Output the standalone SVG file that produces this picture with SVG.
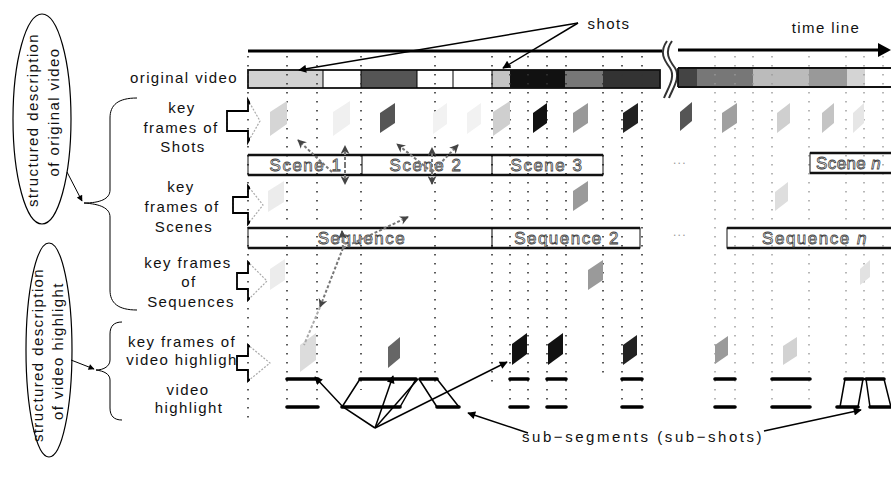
<svg xmlns="http://www.w3.org/2000/svg" width="891" height="477" viewBox="0 0 891 477">
<defs>
<style>
text{font-family:"Liberation Sans",Arial,sans-serif;font-size:15px;letter-spacing:1.4px;fill:#111}
.c{text-anchor:middle}
.dot{stroke:#333;stroke-width:1.6;stroke-dasharray:1.6 7.4;fill:none}
.dotl{stroke:#999;stroke-width:1.4;stroke-dasharray:1.4 7.6;fill:none}
.tl{stroke:#000;stroke-width:3;fill:none}
.bar{stroke:#111;stroke-width:2.6;fill:none}
.hl{stroke:#000;stroke-width:3.6;stroke-linecap:round}
.ln{stroke:#000;stroke-width:1.5;fill:none}
.thin{stroke:#000;stroke-width:1;fill:none}
.sc{font-size:17px;fill:#fff;stroke:#444;stroke-width:0.8;letter-spacing:1.5px}
.ga{stroke:#777;stroke-width:2;stroke-dasharray:3 2;fill:none}
.ba{fill:none;stroke:#aaa;stroke-width:1.2;stroke-dasharray:2 1.5}
.bb{fill:none;stroke:#000;stroke-width:1.8}
</style>
<marker id="ah" viewBox="0 0 10 10" refX="9" refY="5" markerWidth="11" markerHeight="8" markerUnits="userSpaceOnUse" orient="auto"><path d="M0,0 L10,5 L0,10 z" fill="#000"/></marker>
<marker id="as" viewBox="0 0 10 10" refX="9" refY="5" markerWidth="8" markerHeight="6" markerUnits="userSpaceOnUse" orient="auto"><path d="M0,0 L10,5 L0,10 z" fill="#000"/></marker>
<marker id="ag" viewBox="0 0 10 10" refX="9" refY="5" markerWidth="10" markerHeight="9" markerUnits="userSpaceOnUse" orient="auto"><path d="M0,0 L10,5 L0,10 L3,5 z" fill="#444"/></marker>
<clipPath id="lc"><rect x="0" y="0" width="250" height="477"/></clipPath>
<path id="ba1" d="M227,111 L248,111 L248,100 L260,121 L248,142 L248,131 L227,131 Z"/>
<path id="ba2" d="M233,197 L248,197 L248,186 L263,205 L248,224 L248,213 L233,213 Z"/>
<path id="ba3" d="M237,273 L248,273 L248,262 L267,281 L248,300 L248,289 L237,289 Z"/>
<path id="ba4" d="M237,356 L248,356 L248,345 L270,363 L248,381 L248,370 L237,370 Z"/>
</defs>
<rect width="891" height="477" fill="#fff"/>

<g id="timeline">
<line class="tl" x1="248" y1="51" x2="662" y2="51"/>
<line class="tl" x1="678" y1="50" x2="880" y2="50"/>
<path d="M878,43 L891,50 L878,57 z" fill="#000"/>
<path d="M667,41 C659,52 664,60 670,68 C676,77 668,88 664,98" fill="none" stroke="#333" stroke-width="2"/>
<path d="M672,41 C664,52 669,60 675,68 C681,77 673,88 669,98" fill="none" stroke="#333" stroke-width="2"/>
<text x="826" y="33" class="c">time line</text>
</g>

<g id="original-video">
<rect x="248" y="70" width="75" height="18" fill="#d2d2d2"/>
<rect x="361" y="70" width="56" height="18" fill="#555"/>
<rect x="492" y="70" width="18" height="18" fill="#c4c4c4"/>
<rect x="510" y="70" width="55" height="18" fill="#111"/>
<rect x="565" y="70" width="38" height="18" fill="#777"/>
<rect x="603" y="70" width="57" height="18" fill="#333"/>
<rect x="248" y="70" width="412" height="18" fill="none" stroke="#111" stroke-width="1.8"/>
<path class="thin" d="M323,70V88M361,70V88M417,70V88M453,70V88M492,70V88"/>
<rect x="678" y="68" width="19" height="19" fill="#444"/>
<rect x="697" y="68" width="56" height="19" fill="#777"/>
<rect x="753" y="68" width="56" height="19" fill="#bbb"/>
<rect x="809" y="68" width="38" height="19" fill="#999"/>
<rect x="847" y="68" width="18" height="19" fill="#d4d4d4"/>
<path d="M678,68H891M678,87H891M678,68V87" fill="none" stroke="#111" stroke-width="1.8"/>
<text x="238" y="83" style="text-anchor:end">original video</text>
</g>

<g id="grid">
<path class="dot" d="M248,56V420M287,56V407M317,56V407M361,56V390M435,56V388M492,56V388M510,56V407M528,56V407M547,56V407M566,56V407M603,56V378M622,56V407M642,56V407"/>
<path class="dotl" d="M715,56V407M735,56V407M753,56V370M772,56V407M809,56V407M846,56V378M864,56V378M883,56V378"/>
</g>

<g id="shots-label">
<text x="609" y="29" class="c">shots</text>
<line class="ln" x1="578" y1="23" x2="299" y2="70" marker-end="url(#ah)"/>
<line class="ln" x1="578" y1="23" x2="503" y2="68" marker-end="url(#ah)"/>
</g>

<g id="keyframes-shots">
<polygon points="270,112 287,101 287,124 270,136" fill="#d5d5d5"/>
<polygon points="333,112 350,101 350,124 333,136" fill="#f0f0f0"/>
<polygon points="380,113 395,103 395,123 380,133" fill="#555"/>
<polygon points="433,113 447,103 447,124 433,134" fill="#f2f2f2"/>
<polygon points="467,113 481,103 481,124 467,134" fill="#f2f2f2"/>
<polygon points="493,112 510,101 510,124 493,136" fill="#cfcfcf"/>
<polygon points="533,113 547,103 547,123 533,133" fill="#111"/>
<polygon points="573,113 588,103 588,123 573,133" fill="#999"/>
<polygon points="623,113 638,103 638,123 623,133" fill="#222"/>
<polygon points="680,112 692,102 692,121 680,131" fill="#555"/>
<polygon points="722,113 737,103 737,123 722,133" fill="#a0a0a0"/>
<polygon points="777,113 790,103 790,123 777,133" fill="#cfcfcf"/>
<polygon points="822,113 834,103 834,123 822,133" fill="#c4c4c4"/>
<polygon points="853,113 864,103 864,123 853,133" fill="#e6e6e6"/>
</g>

<g id="scene-bars">
<rect x="248" y="155" width="355" height="20" fill="none" stroke="#111" stroke-width="1"/>
<path class="bar" d="M248,155H603M248,175H603"/>
<path class="thin" d="M362,155V175M492,155V175"/>
<text x="306" y="171" class="sc c">Scene 1</text>
<text x="426" y="171" class="sc c">Scene 2</text>
<text x="547" y="171" class="sc c">Scene 3</text>
<rect x="810" y="153" width="90" height="20" fill="none" stroke="#111" stroke-width="1"/>
<path class="bar" d="M810,153H891M810,173H891"/>
<text x="816" y="169" class="sc" style="letter-spacing:0.4px">Scene <tspan font-style="italic">n</tspan></text>
<text x="680" y="164" class="c" style="fill:#999;font-size:12px">...</text>
</g>

<g id="keyframes-scenes">
<polygon points="268,191 284,181 284,202 268,212" fill="#ececec"/>
<polygon points="573,191 588,181 588,201 573,211" fill="#9a9a9a"/>
<polygon points="775,192 788,182 788,201 775,211" fill="#dedede"/>
</g>

<g id="sequence-bars">
<rect x="248" y="228" width="392" height="20" fill="none" stroke="#111" stroke-width="1"/>
<path class="bar" d="M248,228H640M248,248H640"/>
<path class="thin" d="M492,228V248"/>
<text x="362" y="244" class="sc c">Sequence</text>
<text x="567" y="244" class="sc c">Sequence 2</text>
<rect x="727" y="228" width="170" height="20" fill="none" stroke="#111" stroke-width="1"/>
<path class="bar" d="M727,228H891M727,248H891"/>
<text x="815" y="244" class="sc c">Sequence <tspan font-style="italic">n</tspan></text>
<text x="680" y="236" class="c" style="fill:#999;font-size:12px">...</text>
</g>

<g id="keyframes-sequences">
<polygon points="270,269 285,259 285,280 270,290" fill="#ececec"/>
<polygon points="588,270 603,260 603,280 588,290" fill="#9a9a9a"/>
<polygon points="860,269 870,260 870,277 860,285" fill="#e2e2e2"/>
</g>

<g id="keyframes-highlight">
<polygon points="300,345 316,333 316,360 300,372" fill="#dcdcdc"/>
<polygon points="388,347 400,337 400,358 388,368" fill="#666"/>
<polygon points="512,344 527,333 527,354 512,365" fill="#111"/>
<polygon points="548,344 563,333 563,354 548,365" fill="#111"/>
<polygon points="623,345 637,335 637,355 623,365" fill="#222"/>
<polygon points="715,345 728,336 728,355 715,364" fill="#9a9a9a"/>
<polygon points="783,346 797,337 797,356 783,365" fill="#d2d2d2"/>
</g>

<g id="hierarchy-links">
<line class="ga" x1="332" y1="172" x2="298" y2="140" marker-end="url(#ag)"/>
<line class="ga" x1="345" y1="165" x2="345" y2="146" marker-end="url(#ag)"/>
<line class="ga" x1="345" y1="165" x2="345" y2="184" marker-end="url(#ag)"/>
<line class="ga" x1="432" y1="172" x2="397" y2="144" marker-end="url(#ag)"/>
<line class="ga" x1="432" y1="172" x2="432" y2="148" marker-end="url(#ag)"/>
<line class="ga" x1="432" y1="172" x2="458" y2="145" marker-end="url(#ag)"/>
<line class="ga" x1="432" y1="172" x2="432" y2="184" marker-end="url(#ag)"/>
<line class="ga" x1="343" y1="248" x2="408" y2="217" marker-end="url(#ag)"/>
<line class="ga" x1="343" y1="248" x2="342" y2="231" marker-end="url(#ag)"/>
<line class="ga" x1="343" y1="248" x2="320" y2="307" marker-end="url(#ag)"/>
<line class="ga" x1="320" y1="307" x2="304" y2="345" style="stroke:#aaa"/>
</g>

<g id="video-highlight">
<path class="hl" d="M287,379H318M287,407H318"/>
<path class="hl" d="M360,379H416M420,379H437M342,407H400M437,407H459"/>
<path class="hl" d="M510,379H528M510,407H528M547,379H566M547,407H566M622,379H642M622,407H642"/>
<path class="hl" d="M715,379H735M715,407H735M772,379H810M772,407H810"/>
<path class="hl" d="M845,379H863M866,379H884M837,407H858M870,407H891"/>
<path class="ln" d="M360,379L342,407M416,379L400,407M419,379L437,407M437,379L459,407"/>
<path class="ln" d="M845,379L840,407M863,379L858,407M866,379L870,407M884,379L891,407"/>
</g>

<g id="subsegment-label">
<text x="522" y="442" textLength="241" lengthAdjust="spacing">sub−segments (sub−shots)</text>
<polyline class="ln" points="375,428 343,407 315,377" marker-end="url(#ah)"/>
<line class="ln" x1="375" y1="428" x2="393" y2="376" marker-end="url(#ah)"/>
<line class="ln" x1="375" y1="428" x2="418" y2="379"/>
<line class="ln" x1="375" y1="428" x2="507" y2="362" marker-end="url(#ah)"/>
<line class="ln" x1="528" y1="433" x2="468" y2="413" marker-end="url(#ah)"/>
<line class="ln" x1="764" y1="431" x2="861" y2="410" marker-end="url(#ah)"/>
</g>

<g id="row-labels">
<text x="182" y="113" class="c">key</text>
<text x="181" y="133" class="c">frames of</text>
<text x="183" y="152" class="c">Shots</text>
<text x="181" y="192" class="c">key</text>
<text x="182" y="212" class="c">frames of</text>
<text x="184" y="232" class="c">Scenes</text>
<text x="188" y="268" class="c">key frames</text>
<text x="189" y="287" class="c">of</text>
<text x="191" y="307" class="c">Sequences</text>
<text x="182" y="347" class="c">key frames of</text>
<text x="182" y="365" class="c">video highligh</text>
<text x="188" y="395" class="c">video</text>
<text x="189" y="413" class="c">highlight</text>
</g>

<g id="block-arrows">
<use href="#ba1" class="ba"/><use href="#ba2" class="ba"/><use href="#ba3" class="ba"/><use href="#ba4" class="ba"/>
<g clip-path="url(#lc)">
<use href="#ba1" class="bb"/><use href="#ba2" class="bb"/><use href="#ba3" class="bb"/><use href="#ba4" class="bb"/>
</g>
</g>

<g id="desc-original">
<ellipse cx="42" cy="119" rx="29" ry="105" fill="none" stroke="#000" stroke-width="1.2"/>
<text class="c" transform="translate(38,120) rotate(-90)">structured description</text>
<text class="c" transform="translate(59,112) rotate(-90)">of original video</text>
</g>
<g id="desc-highlight">
<ellipse cx="49" cy="350" rx="23" ry="107" fill="none" stroke="#000" stroke-width="1.2"/>
<text class="c" transform="translate(43,355) rotate(-90)">structured description</text>
<text class="c" transform="translate(63,351) rotate(-90)">of video highlight</text>
</g>

<g id="braces">
<path class="thin" d="M137,98 C118,98 110,105 110,118 L110,190 C110,199 100,203 84,203 C100,204 110,208 110,217 L110,290 C110,303 118,310 137,310"/>
<path class="thin" d="M122,322 C114,322 110,326 110,334 L110,360 C110,366 104,370 96,370 C104,371 110,374 110,380 L110,408 C110,416 114,420 122,420"/>
<line class="thin" x1="67" y1="172" x2="82" y2="201" marker-end="url(#as)"/>
<line class="thin" x1="71" y1="360" x2="94" y2="369" marker-end="url(#as)"/>
</g>
</svg>
